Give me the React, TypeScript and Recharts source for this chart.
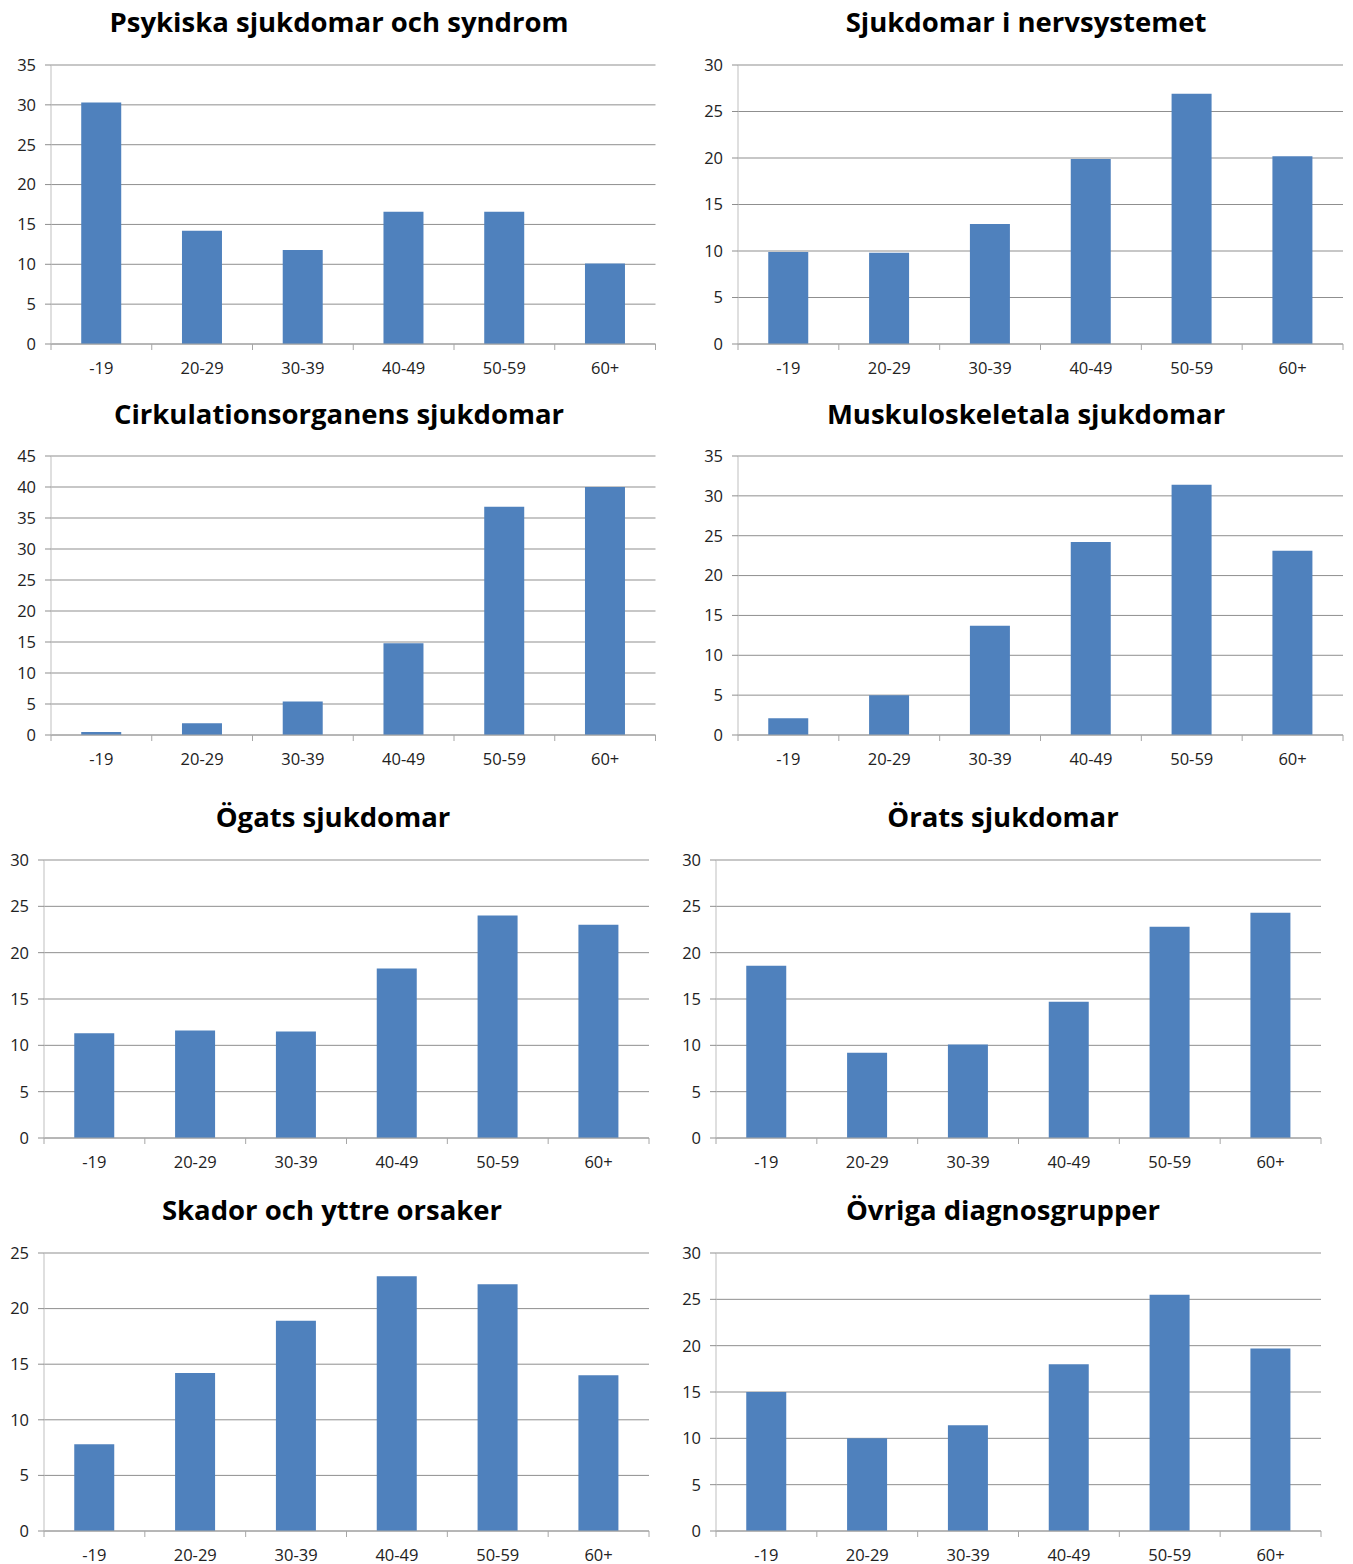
import React from 'react';
import { BarChart, Bar, XAxis, YAxis, CartesianGrid } from 'recharts';

// Sjukskrivna per åldersgrupp och diagnosgrupp (procent)
const ageGroups = ['-19', '20-29', '30-39', '40-49', '50-59', '60+'];

const psykiska = [30.3, 14.2, 11.8, 16.6, 16.6, 10.1];
const nervsystemet = [9.9, 9.8, 12.9, 19.9, 26.9, 20.2];
const cirkulation = [0.5, 1.9, 5.4, 14.8, 36.8, 40.0];
const muskuloskeletala = [2.1, 5.0, 13.7, 24.2, 31.4, 23.1];
const ogats = [11.3, 11.6, 11.5, 18.3, 24.0, 23.0];
const orats = [18.6, 9.2, 10.1, 14.7, 22.8, 24.3];
const skador = [7.8, 14.2, 18.9, 22.9, 22.2, 14.0];
const ovriga = [15.0, 10.0, 11.4, 18.0, 25.5, 19.7];

const titles = [
  'Psykiska sjukdomar och syndrom',
  'Sjukdomar i nervsystemet',
  'Cirkulationsorganens sjukdomar',
  'Muskuloskeletala sjukdomar',
  'Ögats sjukdomar',
  'Örats sjukdomar',
  'Skador och yttre orsaker',
  'Övriga diagnosgrupper',
];
const yMaxes = [35, 30, 45, 35, 30, 30, 25, 30];
const series = [psykiska, nervsystemet, cirkulation, muskuloskeletala, ogats, orats, skador, ovriga];

// plot box (left, top, right, bottom) and title centre for each panel
const layout = [
  { l: 50.5, t: 65, r: 655, b: 344, tx: 339, ty: 22 },
  { l: 738, t: 65, r: 1343, b: 344, tx: 1026, ty: 22 },
  { l: 50.5, t: 456, r: 655, b: 735, tx: 339, ty: 414 },
  { l: 738, t: 456, r: 1343, b: 735, tx: 1026, ty: 414 },
  { l: 44, t: 860, r: 649, b: 1138, tx: 333, ty: 817 },
  { l: 716, t: 860, r: 1321, b: 1138, tx: 1003, ty: 817 },
  { l: 44, t: 1253, r: 649, b: 1531, tx: 332, ty: 1210 },
  { l: 716, t: 1253, r: 1321, b: 1531, tx: 1003, ty: 1210 },
];

const FONT = '"Open Sans", "Liberation Sans", sans-serif';
const BAR = '#4F81BD';
const GRID = '#8f8f8f';
const AXIS = '#bfbfbf';
const XAXIS = '#a6a6a6';
const TICK = 6;
const MARGIN = 10;
const PAD_TOP = 20;

function CategoryTick(props: any) {
  const { x, y, payload, index, band, count } = props;
  const axisY = y - TICK - MARGIN;
  const left = x - band / 2;
  const right = x + band / 2;
  return (
    <g>
      <line x1={left} x2={left} y1={axisY} y2={axisY + TICK} stroke={XAXIS} />
      {index === count - 1 && <line x1={right} x2={right} y1={axisY} y2={axisY + TICK} stroke={XAXIS} />}
      <text x={x} y={axisY + 29.5} textAnchor="middle" fontSize={16.5} fontFamily={FONT} fill="#222">
        {payload.value}
      </text>
    </g>
  );
}

function Panel({ idx }: { idx: number }) {
  const box = layout[idx];
  const yMax = yMaxes[idx];
  const data = ageGroups.map((g, i) => ({ group: g, value: series[idx][i] }));
  const ticks: number[] = [];
  for (let v = 0; v <= yMax; v += 5) ticks.push(v);
  const band = (box.r - box.l) / ageGroups.length;

  const width = box.r - box.l + 60;
  const height = box.b - box.t + PAD_TOP + 40;

  return (
    <>
      <div
        style={{
          position: 'absolute',
          left: box.tx - 350,
          width: 700,
          top: box.ty - 20,
          height: 40,
          lineHeight: '40px',
          textAlign: 'center',
          fontFamily: FONT,
          fontWeight: 700,
          fontSize: 27.5,
          color: '#000',
          whiteSpace: 'nowrap',
        }}
      >
        {titles[idx]}
      </div>
      <div style={{ position: 'absolute', left: box.l - 50, top: box.t - PAD_TOP }}>
        <BarChart
          width={width}
          height={height}
          data={data}
          margin={{ top: PAD_TOP, right: 10, left: 0, bottom: 10 }}
          barCategoryGap="30%"
        >
          <CartesianGrid horizontal vertical={false} stroke={GRID} strokeWidth={1} />
          <XAxis
            dataKey="group"
            height={30}
            axisLine={{ stroke: XAXIS }}
            tickLine={false}
            tickSize={TICK}
            tickMargin={MARGIN}
            interval={0}
            tick={(p: any) => <CategoryTick {...p} band={band} count={ageGroups.length} />}
          />
          <YAxis
            width={50}
            domain={[0, yMax]}
            ticks={ticks}
            interval={0}
            axisLine={{ stroke: AXIS }}
            tickLine={{ stroke: GRID }}
            tickSize={TICK}
            tickMargin={9}
            tick={{ fontSize: 16.5, fontFamily: FONT, fill: '#222' }}
          />
          <Bar dataKey="value" fill={BAR} isAnimationActive={false} />
        </BarChart>
      </div>
    </>
  );
}

export default function App() {
  return (
    <div
      style={{
        position: 'absolute',
        left: 0,
        top: 0,
        width: 1353,
        height: 1564,
        overflow: 'hidden',
        background: '#fff',
      }}
    >
      {layout.map((_, i) => (
        <Panel key={i} idx={i} />
      ))}
    </div>
  );
}
